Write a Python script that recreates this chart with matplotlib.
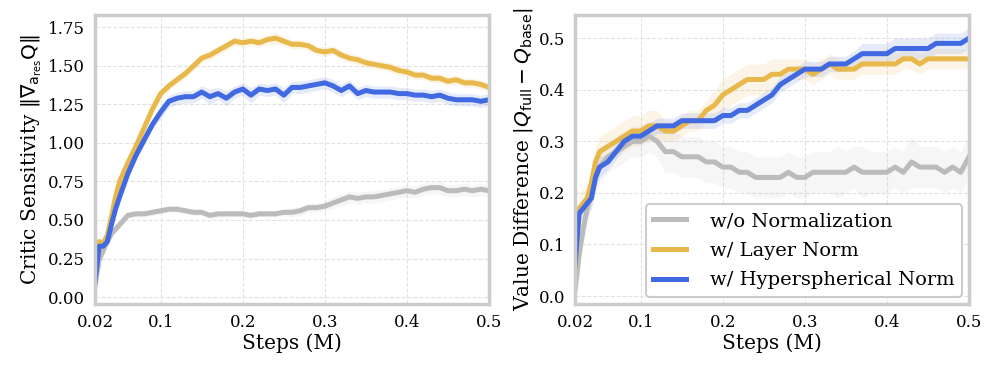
import numpy as np
import matplotlib
matplotlib.use("Agg")
import matplotlib.pyplot as plt

plt.rcParams["font.family"] = "DejaVu Serif"
plt.rcParams["mathtext.fontset"] = "dejavusans"

# steps (M)
steps = [0.02, 0.025, 0.03, 0.035, 0.04, 0.045, 0.05,
         0.06, 0.07, 0.08, 0.09, 0.10, 0.11, 0.12, 0.13, 0.14, 0.15,
         0.16, 0.17, 0.18, 0.19, 0.20, 0.21, 0.22, 0.23, 0.24, 0.25,
         0.26, 0.27, 0.28, 0.29, 0.30, 0.31, 0.32, 0.33, 0.34, 0.35,
         0.36, 0.37, 0.38, 0.39, 0.40, 0.41, 0.42, 0.43, 0.44, 0.45,
         0.46, 0.47, 0.48, 0.49, 0.50]

labels = ["w/o Normalization", "w/ Layer Norm", "w/ Hyperspherical Norm"]
colors = ["#bbbbbb", "#e8b84b", "#4169e1"]

# left panel: critic sensitivity
sens_none = [0.07, 0.24, 0.30, 0.36, 0.41, 0.44, 0.47,
             0.53, 0.54, 0.54, 0.55, 0.56, 0.57, 0.57, 0.56, 0.55, 0.55,
             0.53, 0.54, 0.54, 0.54, 0.54, 0.53, 0.54, 0.54, 0.54, 0.55,
             0.55, 0.56, 0.58, 0.58, 0.59, 0.61, 0.63, 0.65, 0.64, 0.65,
             0.65, 0.66, 0.67, 0.68, 0.69, 0.68, 0.70, 0.71, 0.71, 0.69,
             0.69, 0.70, 0.69, 0.70, 0.69]
sens_ln = [0.33, 0.36, 0.35, 0.40, 0.52, 0.65, 0.75,
           0.87, 0.98, 1.10, 1.22, 1.32, 1.37, 1.41, 1.45, 1.50, 1.55,
           1.57, 1.60, 1.63, 1.66, 1.65, 1.66, 1.65, 1.67, 1.68, 1.66,
           1.64, 1.64, 1.63, 1.60, 1.59, 1.60, 1.57, 1.55, 1.54, 1.52,
           1.51, 1.50, 1.49, 1.47, 1.46, 1.44, 1.44, 1.42, 1.42, 1.40,
           1.41, 1.39, 1.39, 1.38, 1.36]
sens_hs = [0.10, 0.33, 0.33, 0.36, 0.47, 0.57, 0.65,
           0.80, 0.92, 1.02, 1.12, 1.20, 1.27, 1.29, 1.30, 1.30, 1.33,
           1.30, 1.32, 1.29, 1.33, 1.35, 1.31, 1.35, 1.34, 1.35, 1.31,
           1.36, 1.36, 1.37, 1.38, 1.39, 1.37, 1.34, 1.37, 1.32, 1.34,
           1.33, 1.33, 1.33, 1.32, 1.32, 1.31, 1.31, 1.30, 1.31, 1.29,
           1.28, 1.28, 1.28, 1.27, 1.28]
sens_none_sd = [0.02, 0.02, 0.02, 0.02, 0.02, 0.02, 0.02,
                0.02, 0.02, 0.02, 0.02, 0.02, 0.02, 0.02, 0.02, 0.02, 0.02,
                0.02, 0.02, 0.02, 0.02, 0.02, 0.02, 0.02, 0.02, 0.02, 0.02,
                0.03, 0.03, 0.03, 0.03, 0.03, 0.04, 0.04, 0.04, 0.04, 0.04,
                0.04, 0.04, 0.04, 0.04, 0.04, 0.04, 0.04, 0.04, 0.04, 0.04,
                0.04, 0.04, 0.04, 0.04, 0.04]
sens_ln_sd = [0.02, 0.02, 0.02, 0.03, 0.03, 0.03, 0.03,
              0.03, 0.03, 0.03, 0.03, 0.03, 0.03, 0.03, 0.03, 0.03, 0.03,
              0.03, 0.03, 0.03, 0.03, 0.03, 0.03, 0.03, 0.03, 0.04, 0.03,
              0.03, 0.03, 0.03, 0.03, 0.03, 0.03, 0.03, 0.03, 0.03, 0.03,
              0.03, 0.03, 0.03, 0.03, 0.03, 0.03, 0.03, 0.03, 0.03, 0.03,
              0.03, 0.03, 0.03, 0.03, 0.03]
sens_hs_sd = [0.02, 0.02, 0.02, 0.02, 0.02, 0.02, 0.02,
              0.03, 0.03, 0.03, 0.03, 0.04, 0.04, 0.04, 0.04, 0.04, 0.04,
              0.05, 0.04, 0.05, 0.04, 0.04, 0.05, 0.04, 0.04, 0.04, 0.05,
              0.04, 0.04, 0.04, 0.04, 0.04, 0.04, 0.04, 0.04, 0.04, 0.04,
              0.04, 0.04, 0.04, 0.04, 0.04, 0.04, 0.04, 0.04, 0.04, 0.04,
              0.04, 0.04, 0.04, 0.04, 0.04]

# right panel: value difference
diff_none = [0.01, 0.08, 0.13, 0.17, 0.20, 0.23, 0.25,
             0.27, 0.28, 0.29, 0.30, 0.30, 0.31, 0.30, 0.28, 0.28, 0.27,
             0.27, 0.27, 0.26, 0.26, 0.25, 0.25, 0.24, 0.24, 0.23, 0.23,
             0.23, 0.23, 0.24, 0.23, 0.23, 0.24, 0.24, 0.24, 0.24, 0.24,
             0.25, 0.24, 0.24, 0.24, 0.24, 0.25, 0.24, 0.26, 0.25, 0.25,
             0.25, 0.24, 0.25, 0.24, 0.27]
diff_ln = [0.05, 0.17, 0.18, 0.19, 0.22, 0.26, 0.28,
           0.29, 0.30, 0.31, 0.32, 0.32, 0.33, 0.33, 0.32, 0.32, 0.33,
           0.34, 0.34, 0.36, 0.37, 0.39, 0.40, 0.41, 0.42, 0.42, 0.42,
           0.43, 0.43, 0.44, 0.44, 0.44, 0.43, 0.44, 0.45, 0.44, 0.44,
           0.44, 0.45, 0.45, 0.45, 0.45, 0.45, 0.46, 0.46, 0.45, 0.46,
           0.46, 0.46, 0.46, 0.46, 0.46]
diff_hs = [0.06, 0.16, 0.17, 0.18, 0.19, 0.23, 0.25,
           0.26, 0.28, 0.30, 0.31, 0.31, 0.32, 0.33, 0.33, 0.33, 0.34,
           0.34, 0.34, 0.34, 0.34, 0.35, 0.35, 0.36, 0.36, 0.37, 0.38,
           0.39, 0.41, 0.42, 0.43, 0.44, 0.44, 0.44, 0.45, 0.45, 0.45,
           0.46, 0.47, 0.47, 0.47, 0.47, 0.48, 0.48, 0.48, 0.48, 0.48,
           0.49, 0.49, 0.49, 0.49, 0.50]
diff_none_sd = [0.02, 0.03, 0.03, 0.03, 0.03, 0.03, 0.03,
                0.03, 0.03, 0.03, 0.03, 0.03, 0.03, 0.03, 0.04, 0.04, 0.04,
                0.04, 0.04, 0.04, 0.04, 0.04, 0.04, 0.04, 0.04, 0.04, 0.04,
                0.04, 0.04, 0.04, 0.04, 0.04, 0.04, 0.04, 0.04, 0.05, 0.04,
                0.04, 0.05, 0.04, 0.04, 0.04, 0.04, 0.04, 0.05, 0.04, 0.04,
                0.04, 0.04, 0.04, 0.04, 0.04]
diff_ln_sd = [0.02, 0.03, 0.03, 0.03, 0.03, 0.03, 0.03,
              0.03, 0.03, 0.03, 0.03, 0.03, 0.03, 0.03, 0.02, 0.02, 0.02,
              0.02, 0.02, 0.02, 0.03, 0.03, 0.03, 0.03, 0.03, 0.03, 0.03,
              0.03, 0.03, 0.02, 0.02, 0.02, 0.02, 0.02, 0.02, 0.02, 0.02,
              0.02, 0.02, 0.02, 0.02, 0.02, 0.02, 0.02, 0.02, 0.02, 0.02,
              0.02, 0.02, 0.02, 0.02, 0.02]
diff_hs_sd = [0.02, 0.02, 0.02, 0.02, 0.02, 0.02, 0.02,
              0.015, 0.015, 0.015, 0.015, 0.015, 0.015, 0.015, 0.015, 0.015, 0.015,
              0.015, 0.015, 0.015, 0.015, 0.015, 0.015, 0.015, 0.015, 0.015, 0.015,
              0.015, 0.015, 0.015, 0.015, 0.015, 0.015, 0.015, 0.015, 0.015, 0.015,
              0.015, 0.02, 0.02, 0.02, 0.02, 0.02, 0.02, 0.02, 0.02, 0.02,
              0.02, 0.02, 0.02, 0.02, 0.02]

xticks = [0.02, 0.1, 0.2, 0.3, 0.4, 0.5]
xticklabels = ["0.02", "0.1", "0.2", "0.3", "0.4", "0.5"]


def style_axes(ax):
    ax.set_xlim(0.02, 0.5)
    ax.set_xticks(xticks)
    ax.set_xticklabels(xticklabels)
    ax.grid(True, linestyle="--", color="#e2e2e2", linewidth=0.8)
    ax.set_axisbelow(True)
    ax.tick_params(length=0, labelsize=12, pad=7)
    for sp in ax.spines.values():
        sp.set_color("#cccccc")
        sp.set_linewidth(2.5)
    ax.set_xlabel("Steps (M)", fontsize=14.5, labelpad=2)


def draw(ax, series, spreads):
    x = np.array(steps)
    for y, sd, c, lab in zip(series, spreads, colors, labels):
        y = np.array(y)
        sd = np.array(sd)
        ax.fill_between(x, y - sd, y + sd, color=c, alpha=0.13, linewidth=0)
        ax.plot(x, y, color=c, linewidth=3.6, label=lab)


fig = plt.figure(figsize=(9.96, 3.76), dpi=100)
ax1 = fig.add_axes([95 / 996, 72 / 376, 394 / 996, 289 / 376])
ax2 = fig.add_axes([575 / 996, 72 / 376, 394 / 996, 289 / 376])

draw(ax1, [sens_none, sens_ln, sens_hs], [sens_none_sd, sens_ln_sd, sens_hs_sd])
style_axes(ax1)
ax1.set_ylim(-0.045, 1.83)
ax1.set_yticks([0, 0.25, 0.5, 0.75, 1.0, 1.25, 1.5, 1.75])
ax1.set_yticklabels(["0.00", "0.25", "0.50", "0.75", "1.00", "1.25", "1.50", "1.75"])
ax1.set_ylabel(r"Critic Sensitivity $\Vert\nabla_{\mathrm{a_{res}}}\mathrm{Q}\Vert$", fontsize=14.5, labelpad=3)

draw(ax2, [diff_none, diff_ln, diff_hs], [diff_none_sd, diff_ln_sd, diff_hs_sd])
style_axes(ax2)
ax2.set_ylim(-0.0155, 0.545)
ax2.set_yticks([0, 0.1, 0.2, 0.3, 0.4, 0.5])
ax2.set_yticklabels(["0.0", "0.1", "0.2", "0.3", "0.4", "0.5"])
ax2.set_ylabel(r"Value Difference $|Q_{\mathrm{full}} - Q_{\mathrm{base}}|$", fontsize=14.5, labelpad=3)

leg = ax2.legend(loc="lower right", fontsize=14, frameon=True, fancybox=True,
                 edgecolor="#cccccc", framealpha=1.0, handlelength=1.7,
                 handletextpad=1.2, borderaxespad=0.35, labelspacing=0.6)
leg.get_frame().set_linewidth(1.5)

fig.savefig("out.png", dpi=100)
